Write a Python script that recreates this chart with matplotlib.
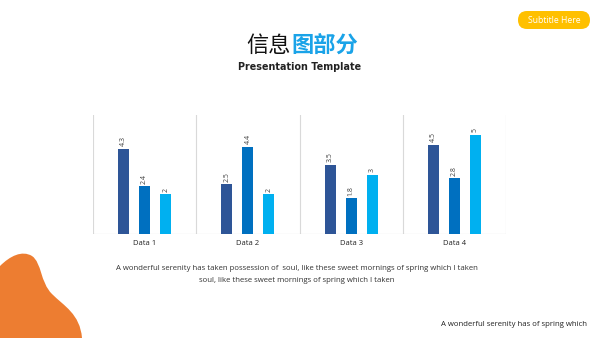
import matplotlib
matplotlib.use("Agg")
import matplotlib.pyplot as plt
import numpy as np
from matplotlib.patches import FancyBboxPatch, PathPatch
from matplotlib.path import Path

categories = ["Data 1", "Data 2", "Data 3", "Data 4"]
series_a = [4.3, 2.5, 3.5, 4.5]
series_b = [2.4, 4.4, 1.8, 2.8]
series_c = [2.0, 2.0, 3.0, 5.0]
series_colors = ["#2E5597", "#0070C0", "#00B0F0"]

title_black = "信息"
title_blue = "图部分"
subtitle = "Presentation Template"
badge_text = "Subtitle Here"
body_lines = [
    "A wonderful serenity has taken possession of  soul, like these sweet mornings of spring which I taken",
    "soul, like these sweet mornings of spring which I taken",
]
footer_text = "A wonderful serenity has of spring which"

fig = plt.figure(figsize=(6, 3.38), dpi=100)
fig.patch.set_facecolor("white")

# Decoration layer in pixel coordinates
bg = fig.add_axes([0, 0, 1, 1])
bg.set_xlim(0, 600)
bg.set_ylim(338, 0)
bg.axis("off")

# Orange blob, bottom-left
verts = [
    (0, 266),
    (10, 256), (22, 250), (32, 256),
    (42, 263), (40, 282), (52, 294),
    (64, 306), (80, 314), (82, 338),
    (0, 338),
    (0, 266),
]
codes = [Path.MOVETO,
         Path.CURVE4, Path.CURVE4, Path.CURVE4,
         Path.CURVE4, Path.CURVE4, Path.CURVE4,
         Path.CURVE4, Path.CURVE4, Path.CURVE4,
         Path.LINETO, Path.CLOSEPOLY]
bg.add_patch(PathPatch(Path(verts, codes), fc="#ED7D31", ec="none"))

# Yellow badge
bg.add_patch(FancyBboxPatch((518, 11), 72, 18,
                            boxstyle="round,pad=0,rounding_size=9",
                            fc="#FFC000", ec="none"))
bg.text(554, 20.5, badge_text, color="white", fontsize=6.2,
        ha="center", va="center", family="Open Sans")

# Title
bg.text(291, 45, title_black, color="#111111", fontsize=16,
        ha="right", va="center", family="Noto Sans CJK SC", style="italic")
bg.text(291, 45, title_blue, color="#1AA3E8", fontsize=16, fontweight="bold",
        ha="left", va="center", family="Noto Sans CJK SC", style="italic")
bg.text(300, 66.5, subtitle, color="#222222", fontsize=6.9, fontweight="bold",
        ha="center", va="center", family="DejaVu Sans")

# Body text
bg.text(297, 269, body_lines[0], color="#333333", fontsize=5.55,
        ha="center", va="center", family="Open Sans")
bg.text(297, 281, body_lines[1], color="#333333", fontsize=5.55,
        ha="center", va="center", family="Open Sans")
bg.text(587, 324, footer_text, color="#222222", fontsize=5.6,
        ha="right", va="center", family="Open Sans")

# Bar chart
ax = fig.add_axes([93 / 600, 1 - 234 / 338, 413 / 600, 119 / 338])
ax.patch.set_alpha(0)
x = np.arange(len(categories))
width = 0.107
offset = 0.204
for vals, off, col in zip([series_a, series_b, series_c], [-offset, 0, offset], series_colors):
    bars = ax.bar(x + off, vals, width=width, color=col, zorder=3)
    for b, v in zip(bars, vals):
        ax.text(b.get_x() + b.get_width() / 2, v + 0.12, f"{v:g}",
                rotation=90, ha="center", va="bottom", fontsize=5,
                color="#404040", family="Open Sans")

ax.set_xlim(-0.5, len(categories) - 0.5)
ax.set_ylim(0, 6)
for xv in np.arange(-0.5, len(categories), 1.0):
    ax.axvline(xv, color="#D9D9D9", lw=0.8, zorder=1)
ax.axhline(0, color="#BFBFBF", lw=0.8, zorder=2)
for s in ax.spines.values():
    s.set_visible(False)
ax.set_yticks([])
ax.set_xticks(x)
ax.set_xticklabels(categories, fontsize=5.5, color="#222222", family="Open Sans")
ax.tick_params(axis="x", length=0, pad=4.5)

fig.savefig("out.png", dpi=100, facecolor="white")
